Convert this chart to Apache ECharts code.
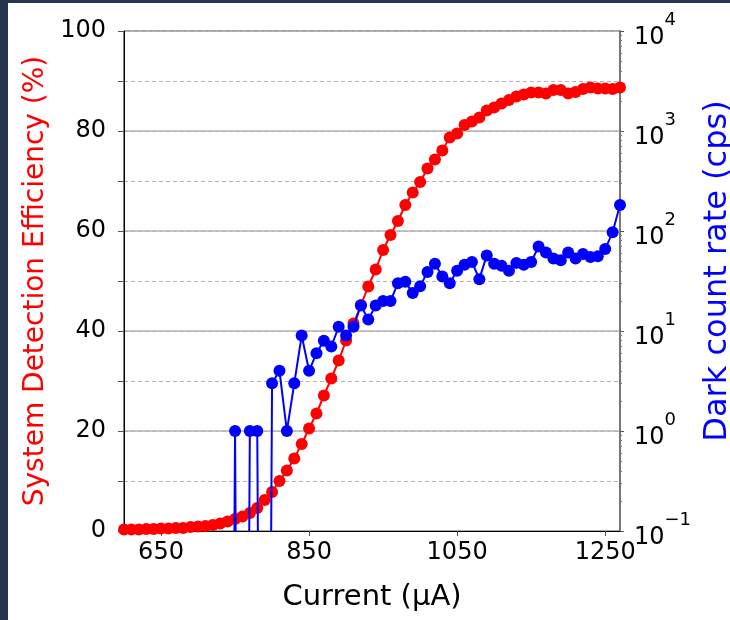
<!DOCTYPE html>
<html>
<head>
<meta charset="utf-8">
<script src="https://cdn.jsdelivr.net/npm/echarts@6/dist/echarts.min.js"></script>
<style>
  html, body { margin: 0; padding: 0; background: #fff; }
  #frame { position: absolute; left: 0; top: 0; width: 730px; height: 620px; border-left: 8px solid #25354f; border-top: 3px solid #25354f; box-sizing: border-box; }
  #chart { position: absolute; left: 0; top: 0; width: 730px; height: 620px; }
</style>
</head>
<body>
<div id="frame"></div>
<div id="chart"></div>
<script>
// bias current (uA)
const current = [
  600, 610, 620, 630, 640, 650, 660, 670, 680, 690,
  700, 710, 720, 730, 740, 750, 760, 770, 780, 790,
  800, 810, 820, 830, 840, 850, 860, 870, 880, 890,
  900, 910, 920, 930, 940, 950, 960, 970, 980, 990,
  1000, 1010, 1020, 1030, 1040, 1050, 1060, 1070, 1080, 1090,
  1100, 1110, 1120, 1130, 1140, 1150, 1160, 1170, 1180, 1190,
  1200, 1210, 1220, 1230, 1240, 1250, 1260, 1270
]
// system detection efficiency (%)
const sde = [
  0.3, 0.3, 0.3, 0.4, 0.4, 0.5, 0.5, 0.6, 0.6, 0.8,
  0.9, 1.0, 1.2, 1.5, 1.9, 2.4, 2.9, 3.6, 4.6, 6.2,
  7.8, 10.0, 12.1, 14.5, 17.4, 20.5, 23.5, 27.1, 30.5, 34.1,
  38.1, 41.5, 45.2, 48.9, 52.3, 56.2, 59.2, 62.0, 65.2, 67.7,
  69.8, 72.5, 74.3, 76.1, 78.7, 79.5, 81.2, 81.9, 82.7, 84.1,
  84.7, 85.5, 86.2, 86.9, 87.3, 87.7, 87.7, 87.5, 88.2, 88.2,
  87.5, 87.8, 88.4, 88.7, 88.5, 88.5, 88.4, 88.7
]
// dark count rate (cps), 0 = no counts
const darkCount = [
  0, 0, 0, 0, 0, 0, 0, 0, 0, 0,
  0, 0, 0, 0, 0, 1, 0, 1, 1, 0,
  3, 4, 1, 3, 9, 4, 6, 8, 7, 11,
  9, 11, 18, 13, 18, 20, 20, 30, 31, 24,
  28, 39, 47, 35, 30, 40, 46, 49, 33, 57,
  47, 45, 40, 48, 46, 49, 70, 61, 53, 51,
  61, 53, 59, 55, 56, 66, 97, 182
]
const xTicks = [650, 850, 1050, 1250]

const font = 'DejaVu Sans'
const gridGray = '#b4b4b4'

// minor ticks 2..9 of each decade on the log axis
const minorLog = []
for (let d = 0.1; d < 10000; d *= 10) {
  for (let k = 2; k <= 9; k++) minorLog.push(+(k * d).toPrecision(3))
}

const chart = echarts.init(document.getElementById('chart'))
chart.setOption({
  animation: false,
  backgroundColor: 'transparent',
  textStyle: { fontFamily: font },
  grid: {
    left: 124,
    right: 110,
    top: 31,
    bottom: 89,
    outerBoundsMode: 'none',
    show: true,
    borderColor: '#000',
    borderWidth: 1
  },
  xAxis: {
    type: 'value',
    min: 600,
    max: 1270,
    name: 'Current (μA)',
    nameLocation: 'middle',
    nameGap: 52,
    nameTextStyle: { color: '#000', fontSize: 29, fontFamily: font },
    axisLine: { lineStyle: { color: '#000', width: 1 } },
    axisTick: { customValues: xTicks, length: 5, lineStyle: { color: '#555' } },
    axisLabel: {
      customValues: xTicks,
      color: '#000',
      fontSize: 24,
      margin: 10,
      fontFamily: font,
      formatter: v => String(v)
    },
    splitLine: { show: false }
  },
  yAxis: [
    {
      type: 'value',
      position: 'left',
      min: 0,
      max: 100,
      interval: 10,
      name: 'System Detection Efficiency (%)',
      nameLocation: 'middle',
      nameGap: 73,
      nameTextStyle: { color: '#ff0000', fontSize: 28, fontFamily: font },
      axisLine: { show: true, lineStyle: { color: '#000', width: 1 } },
      axisTick: { show: true, length: 6, lineStyle: { color: '#555' } },
      axisLabel: {
        color: '#000',
        fontSize: 24,
        margin: 18,
        fontFamily: font,
        formatter: v => (v % 20 === 0 ? String(v) : '')
      },
      splitLine: { show: true, lineStyle: { color: gridGray, width: 1, type: [4, 3] } }
    },
    {
      type: 'log',
      logBase: 10,
      position: 'right',
      min: 0.1,
      max: 10000,
      name: 'Dark count rate (cps)',
      nameLocation: 'middle',
      nameGap: 78,
      nameTextStyle: { color: '#0000ff', fontSize: 32, fontFamily: font, padding: [0, 0, 0, 20] },
      axisLine: { show: true, lineStyle: { color: '#777', width: 2 } },
      axisTick: { show: true, length: 4, lineStyle: { color: '#555' } },
      axisLabel: {
        color: '#000',
        margin: 14,
        formatter: v => {
          const e = Math.round(Math.log10(v))
          return '{b|10}{e|' + (e < 0 ? '\u2212' + (-e) : e) + '}'
        },
        rich: {
          b: { fontSize: 24, fontFamily: font, color: '#000', padding: [14, 0, 0, 0] },
          e: { fontSize: 18, fontFamily: font, color: '#000', padding: [0, 0, 22, 0] }
        }
      },
      splitLine: { show: false }
    },
    {
      // solid grid lines at the decades
      type: 'value',
      position: 'left',
      min: 0,
      max: 100,
      interval: 20,
      axisLine: { show: false },
      axisTick: { show: false },
      axisLabel: { show: false },
      splitLine: { show: true, lineStyle: { color: gridGray, width: 1.5 } }
    },
    {
      // minor ticks of the log axis
      type: 'log',
      logBase: 10,
      position: 'right',
      min: 0.1,
      max: 10000,
      axisLine: { show: false },
      axisTick: { show: true, length: 2, customValues: minorLog, lineStyle: { color: '#777' } },
      axisLabel: { show: false },
      splitLine: { show: false }
    }
  ],
  series: [
    {
      name: 'SDE',
      type: 'line',
      yAxisIndex: 0,
      data: current.map((c, i) => [c, sde[i]]),
      symbol: 'circle',
      symbolSize: 12,
      lineStyle: { color: '#ff0000', width: 2 },
      itemStyle: { color: '#ff0000' },
      z: 3
    },
    {
      name: 'DCR',
      type: 'line',
      yAxisIndex: 1,
      // zero counts sit far below the log floor, so the line drops out of the plot
      data: current.map((c, i) => darkCount[i] > 0
        ? [c, darkCount[i]]
        : { value: [c, 1e-12], symbol: 'none' }),
      symbol: 'circle',
      symbolSize: 12,
      lineStyle: { color: '#0000ff', width: 2 },
      itemStyle: { color: '#0000ff' },
      z: 4
    }
  ]
})
</script>
</body>
</html>
